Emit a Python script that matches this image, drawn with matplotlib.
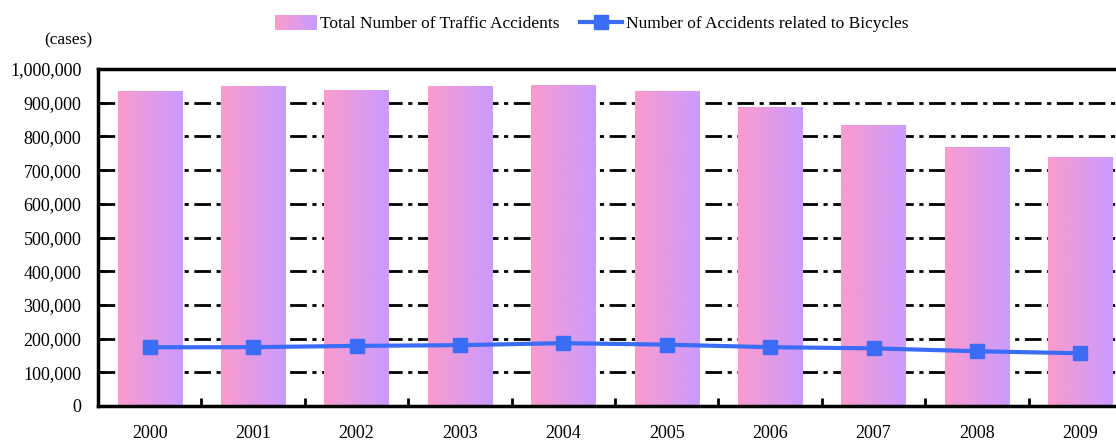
import numpy as np
import matplotlib.pyplot as plt
from matplotlib.patches import Rectangle
from matplotlib.lines import Line2D
from matplotlib.legend_handler import HandlerBase
from matplotlib.colors import LinearSegmentedColormap

years = ['2000', '2001', '2002', '2003', '2004', '2005', '2006', '2007', '2008', '2009']
total_accidents = [931934, 947253, 936721, 947993, 952191, 933828, 886864, 832454, 766147, 736688]
bicycle_accidents = [174262, 174500, 178400, 180500, 186500, 182000, 174500, 171000, 162500, 156400]

plt.rcParams['font.family'] = ['Liberation Serif', 'DejaVu Serif']

pink = '#fb9bcd'
lavender = '#c99bff'
blue = '#3a6cf5'
grad = LinearSegmentedColormap.from_list('pg', [pink, lavender])

fig = plt.figure(figsize=(11.16, 4.41), dpi=100)
ax = fig.add_axes([0.0878, 0.0794, 0.9266, 0.7641])

x = np.arange(len(years))
width = 0.62
img = np.linspace(0, 1, 100).reshape(1, -1)
for xi, h in zip(x, total_accidents):
    ax.imshow(img, cmap=grad, aspect='auto', extent=(xi - width / 2, xi + width / 2, 0, h),
              zorder=2, interpolation='bilinear')

ax.plot(x, bicycle_accidents, color=blue, lw=3, marker='s', ms=10, zorder=4)

ax.set_xlim(-0.5, len(years) - 0.5)
ax.set_ylim(0, 1000000)
ax.set_yticks(np.arange(0, 1000001, 100000))
ax.set_yticklabels([f'{v:,}' for v in range(0, 1000001, 100000)])
ax.set_xticks(x)
ax.set_xticklabels(years)
ax.set_xticks(np.arange(0.5, len(years) - 0.5, 1), minor=True)
ax.tick_params(axis='x', which='major', length=0, pad=14, labelsize=13)
ax.tick_params(axis='x', which='minor', direction='in', length=6, width=2)
ax.tick_params(axis='y', direction='in', length=6, width=2, labelsize=13, pad=12)

ax.yaxis.grid(True, color='black', lw=2, dashes=(6, 2, 1.5, 2), zorder=1)
ax.set_axisbelow(True)
for side in ['left', 'bottom', 'top']:
    ax.spines[side].set_linewidth(2.5)
ax.spines['right'].set_visible(False)


class GradientHandler(HandlerBase):
    def create_artists(self, legend, orig_handle, xdescent, ydescent, width, height, fontsize, trans):
        n = 20
        arts = []
        for i in range(n):
            r = Rectangle((xdescent + width * i / n, ydescent - 1), width / n + 0.3, height + 2,
                          facecolor=grad(i / (n - 1)), edgecolor='none', transform=trans)
            arts.append(r)
        return arts


bar_handle = Rectangle((0, 0), 1, 1)
line_handle = Line2D([], [], color=blue, lw=3, marker='s', ms=10)
fig.legend([bar_handle, line_handle],
           ['Total Number of Traffic Accidents', 'Number of Accidents related to Bicycles'],
           handler_map={Rectangle: GradientHandler()},
           loc='center', bbox_to_anchor=(0.53, 0.945), ncol=2, frameon=False,
           fontsize=12.5, handlelength=2.4, handletextpad=0.2, columnspacing=1.2)

fig.text(0.04, 0.9, '(cases)', fontsize=12.5)

fig.savefig('out.png', dpi=100)
